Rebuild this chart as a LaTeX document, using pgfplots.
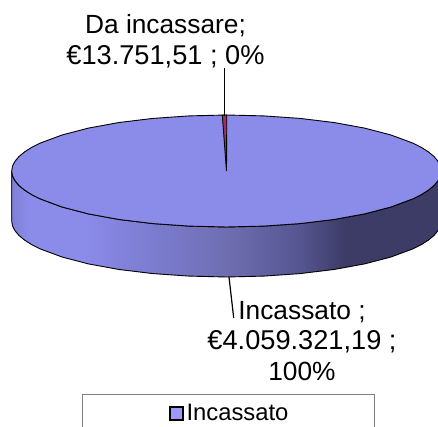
\documentclass[border=0pt]{standalone}
\usepackage{pgfplots}
\pgfplotsset{compat=1.18}
\usepackage{fontspec}
\setmainfont{Liberation Sans}
\definecolor{pietop}{HTML}{8B8BEA}
\definecolor{piekey}{HTML}{9999FF}
\definecolor{wedge}{HTML}{993366}
\definecolor{sideA}{HTML}{8080D8}
\definecolor{sideB}{HTML}{6E6EB2}
\definecolor{sideC}{HTML}{555590}
\definecolor{sideD}{HTML}{3C3C66}
\pgfdeclarehorizontalshading{pieside}{100bp}{
  color(0bp)=(pietop); color(25bp)=(pietop!92!black); color(27bp)=(pietop); color(33.5bp)=(pietop);
  color(38.8bp)=(sideA); color(50bp)=(sideB); color(58.6bp)=(sideC);
  color(63.8bp)=(sideD); color(75bp)=(sideD); color(100bp)=(sideD)}
\begin{document}
\begin{tikzpicture}
\clip[use as bounding box] (0,0) rectangle (438pt,427pt);
\begin{axis}[
  scale only axis, width=438pt, height=427pt,
  xmin=0, xmax=438, ymin=0, ymax=427, y dir=reverse,
  hide axis, clip=true,
  legend style={at={(axis cs:82,394)}, anchor=north west, draw=gray,
    inner xsep=83pt, minimum height=38pt, inner ysep=0pt,
    nodes={inner xsep=3pt, inner ysep=0pt},
    font=\fontsize{23.8}{27}\selectfont},
  legend image code/.code={\path[draw=none, opacity=0] (-4.5pt,0pt) -- (0pt,0pt);\draw[fill=piekey, draw=black, line width=1.8pt, opacity=1] (0pt,-6.5pt) rectangle ++(13pt,13pt);},
]
% side of the disc
\addplot[draw=black, line width=0.9pt, shade, shading=pieside, forget plot] coordinates {
 (11.7,171) (12.5,175.9) (15,180.7) (19,185.5) (24.7,190.2) (31.8,194.7) (40.5,199) (62,207) (88.4,213.9) (119.1,219.5) (153,223.6) (189.2,226.1) (226.5,227)
 (263.8,226.1) (300,223.6) (333.9,219.5) (364.6,213.9) (391,207) (412.5,199) (421.2,194.7) (428.3,190.2) (434,185.5) (438,180.7) (440.5,175.9) (441.3,171)
 (441.3,221) (440.5,225.9) (438,230.7) (434,235.5) (428.3,240.2) (421.2,244.7) (412.5,249) (391,257) (364.6,263.9) (333.9,269.5) (300,273.6) (263.8,276.1) (226.5,277)
 (189.2,276.1) (153,273.6) (119.1,269.5) (88.4,263.9) (62,257) (40.5,249) (31.8,244.7) (24.7,240.2) (19,235.5) (15,230.7) (12.5,225.9) (11.7,221) (11.7,171)
};
% top of the disc
\addplot[draw=black, line width=0.9pt, fill=pietop, forget plot] coordinates {
 (11.7,171) (12.5,166.1) (15,161.3) (19,156.5) (24.7,151.8) (31.8,147.3) (40.5,143) (62,135) (88.4,128.1) (119.1,122.5) (153,118.4) (189.2,115.9) (226.5,115)
 (263.8,115.9) (300,118.4) (333.9,122.5) (364.6,128.1) (391,135) (412.5,143) (421.2,147.3) (428.3,151.8) (434,156.5) (438,161.3) (440.5,166.1) (441.3,171)
 (440.5,175.9) (438,180.7) (434,185.5) (428.3,190.2) (421.2,194.7) (412.5,199) (391,207) (364.6,213.9) (333.9,219.5) (300,223.6) (263.8,226.1) (226.5,227)
 (189.2,226.1) (153,223.6) (119.1,219.5) (88.4,213.9) (62,207) (40.5,199) (31.8,194.7) (24.7,190.2) (19,185.5) (15,180.7) (12.5,175.9) (11.7,171)
};
% the Da incassare slice
\addplot[draw=black, line width=0.9pt, fill=wedge, forget plot] coordinates {
 (226.5,171) (222.3,115.2) (226.8,115) (226.5,171)
};
% leader lines
\addplot[draw=black, line width=1.2pt, forget plot] coordinates {(224.7,68) (224.7,116)};
\addplot[draw=black, line width=1.2pt, forget plot] coordinates {(229,277) (233.7,318)};
% legend key
\addlegendimage{}
\addlegendentry{Incassato}
\node[align=center, font=\fontsize{26.3}{31}\selectfont] at (axis cs:165.5,41) {Da incassare;\\{\fontsize{27.2}{31}\selectfont €13.751,51 ; 0\%}};
\node[align=center, font=\fontsize{26.3}{30.5}\selectfont] at (axis cs:302,341) {Incassato ;\\{\fontsize{27.2}{30.5}\selectfont €4.059.321,19 ;}\\100\%};
\end{axis}
\end{tikzpicture}
\end{document}
